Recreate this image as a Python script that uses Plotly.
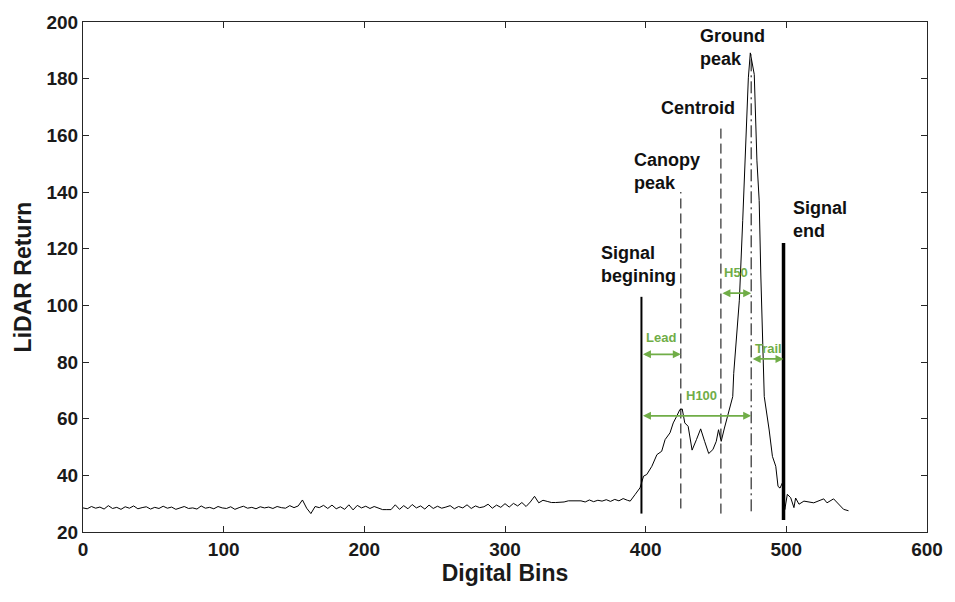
import plotly.graph_objects as go

# ---------------- data ----------------
baseline_bins = list(range(0, 388, 3))
baseline_values = [
    28.5, 28.2, 29.0, 28.4, 28.8, 28.1, 29.3, 28.3, 28.7, 28.0, 28.9, 28.4, 29.2, 28.2, 28.6, 28.9, 28.1, 28.7, 28.3, 29.1, 28.4,
    28.8, 28.0, 28.6, 29.0, 28.3, 28.5, 28.1, 29.2, 28.4, 28.7, 28.2, 29.0, 28.5, 28.3, 28.9, 28.0, 28.6, 29.1, 28.4, 28.7,
    28.2, 28.9, 28.5, 28.8, 28.3, 29.0, 28.6, 28.4, 29.3, 28.6, 29.2, 31.3, 28.4, 26.5, 29.0, 28.6, 29.4, 28.3, 29.5, 28.2,
    28.9, 28.0, 29.6, 27.8, 29.4, 28.5, 29.1, 28.3, 29.0, 28.4, 27.9, 27.9, 27.9, 29.6, 28.0, 29.3, 28.2, 29.7, 28.5, 29.2,
    28.1, 29.5, 28.3, 29.1, 28.4, 28.8, 29.3, 28.2, 29.0, 28.5, 29.6, 28.3, 29.2, 28.6, 28.9, 29.8, 28.4, 29.5, 28.7, 30.0,
    28.8, 30.1, 29.2, 30.4, 29.0, 30.6, 32.6, 30.3, 31.2, 30.8, 30.4, 30.4, 30.4,
    30.6, 31.0, 31.0, 31.0, 31.0, 30.6, 31.3, 30.7, 31.2, 30.9, 31.4, 30.8, 31.5, 31.0, 31.8, 31.2,
]
signal_bins = [
    389, 392.6, 396, 398.5, 400.8, 404.4, 408, 411.4, 413.8, 417.3, 419.6, 422, 424.3, 426, 427.8, 430.2,
    433, 436.1, 439.1, 441.9, 444.8, 447.8, 450.2, 451.8, 453.7, 456, 458.4, 461.9, 462.6, 466.6, 469,
    471.4, 473, 474.4, 477.2, 479.1, 480.7, 481.9, 483.1, 484.3, 487.8, 490.1, 492.5, 494.1, 495.5,
    497.2, 498.9, 500.7, 503.1, 505.4, 506.6, 509, 512.5, 519.5, 526.6, 528.9, 533.6, 537.2, 540.7, 544.2,
]
signal_values = [
    30.9, 33.3, 35.6, 39.7, 40.3, 43.2, 47.3, 48.5, 52.6, 55.0, 58.5, 60.8, 63.2, 63.4, 58.5, 57.3,
    48.9, 52.6, 56.4, 52.0, 47.7, 49.1, 52.0, 56.1, 52.0, 56.7, 61.4, 67.8, 76.0, 101.8, 130.0,
    156.9, 180.3, 189.1, 181.5, 151.0, 137.0, 110.0, 86.5, 67.8, 56.0, 46.7, 43.2, 36.1, 35.5,
    37.3, 27.9, 33.3, 32.1, 28.6, 32.0, 29.8, 30.9, 30.3, 31.7, 30.3, 31.7, 29.8, 28.0, 27.5,
]
bins = baseline_bins + signal_bins
returns = baseline_values + signal_values

# metric positions (bin) and vertical extents (return)
signal_begin = {"bin": 397, "lo": 26.5, "hi": 103}
canopy_peak = {"bin": 425, "lo": 28.3, "hi": 140}
centroid = {"bin": 453.5, "lo": 26.5, "hi": 164}
ground_peak = {"bin": 475, "lo": 27.3, "hi": 188.5}
signal_end = {"bin": 498, "lo": 24.2, "hi": 122}

# labels
black_labels = [
    ("Ground<br>peak", 437, 191, "left"),
    ("Centroid", 437.5, 169.8, "center"),
    ("Canopy<br>peak", 390.6, 147.1, "left"),
    ("Signal<br>begining", 366.5, 114.4, "left"),
    ("Signal<br>end", 503.2, 130.2, "left"),
]
# green metric arrows: (label, start bin, end bin, arrow y, label x, label y)
metrics = [
    ("Lead", 397, 425, 82.7, 411, 88.5),
    ("H50", 453.5, 475, 104.3, 464, 111.5),
    ("Trail", 475, 498, 81.1, 487, 84.8),
    ("H100", 397, 475, 61.0, 439.6, 68.1),
]

x_ticks = [0, 100, 200, 300, 400, 500, 600]
y_ticks = [20, 40, 60, 80, 100, 120, 140, 160, 180, 200]

GREEN = "#70AD47"
FONT = "Arial, Liberation Sans, sans-serif"

# ---------------- figure ----------------
fig = go.Figure()
fig.add_trace(go.Scatter(x=bins, y=returns, mode="lines",
                         line=dict(color="black", width=1), hoverinfo="skip"))

def vline(m, width, dash):
    fig.add_trace(go.Scatter(x=[m["bin"], m["bin"]], y=[m["lo"], m["hi"]], mode="lines",
                             line=dict(color="black", width=width, dash=dash), hoverinfo="skip"))

vline(signal_begin, 2, "solid")
vline(canopy_peak, 1, "10px,5px")
vline(centroid, 1, "10px,5px")
vline(ground_peak, 1, "12px,4px,2px,4px")
vline(signal_end, 3.5, "solid")

annotations = []
for text, x, y, anchor in black_labels:
    annotations.append(dict(x=x, y=y, xref="x", yref="y", text="<b>" + text.replace("<br>", "</b><br><b>") + "</b>",
                            showarrow=False, xanchor=anchor, yanchor="middle", align="left",
                            font=dict(family=FONT, size=18, color="#111111")))
for label, x0, x1, ya, lx, ly in metrics:
    annotations.append(dict(x=x1, y=ya, ax=x0, ay=ya, xref="x", yref="y", axref="x", ayref="y",
                            text="", showarrow=True, arrowside="end+start", arrowhead=2,
                            arrowsize=1, arrowwidth=1.6, arrowcolor=GREEN))
    annotations.append(dict(x=lx, y=ly, xref="x", yref="y", text="<b>" + label + "</b>", showarrow=False,
                            xanchor="center", yanchor="middle",
                            font=dict(family=FONT, size=13, color=GREEN)))

fig.update_layout(
    width=955, height=602,
    margin=dict(l=83, r=21, t=21, b=70),
    paper_bgcolor="white", plot_bgcolor="white",
    showlegend=False,
    annotations=annotations,
    font=dict(family=FONT, color="black"),
    xaxis=dict(range=[0, 600], tickvals=x_ticks, ticktext=[f"<b>{t}</b>" for t in x_ticks],
               showgrid=False, zeroline=False, showline=True, linecolor="#262626", linewidth=1,
               mirror="ticks", ticks="inside", ticklen=6, tickcolor="#262626",
               tickfont=dict(size=19, color="#1a1a1a"),
               title=dict(text="<b>Digital Bins</b>", font=dict(size=23, color="#1a1a1a"), standoff=6)),
    yaxis=dict(range=[20, 200], tickvals=y_ticks, ticktext=[f"<b>{t}</b>" for t in y_ticks],
               showgrid=False, zeroline=False, showline=True, linecolor="#262626", linewidth=1,
               mirror="ticks", ticks="inside", ticklen=6, tickcolor="#262626",
               tickfont=dict(size=19, color="#1a1a1a"),
               title=dict(text="<b>LiDAR Return</b>", font=dict(size=23, color="#1a1a1a"), standoff=8)),
)

fig.write_html("out.html")
